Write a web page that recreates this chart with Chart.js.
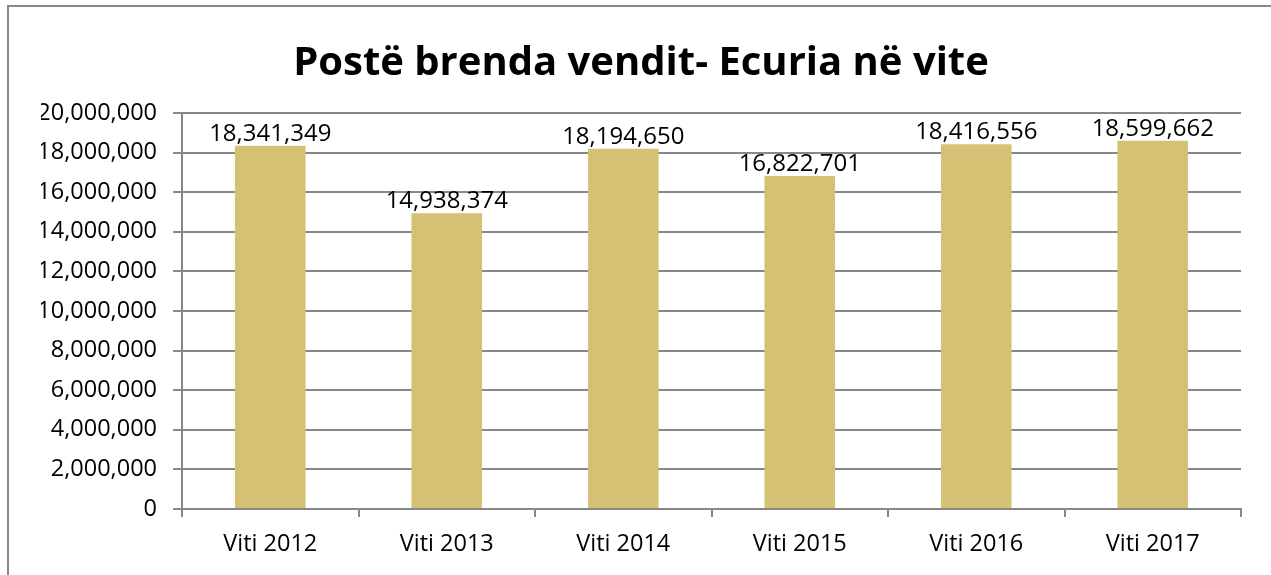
<!DOCTYPE html>
<html>
<head>
<meta charset="utf-8">
<script src="https://cdn.jsdelivr.net/npm/chart.js@4"></script>
<style>
  html, body { margin: 0; padding: 0; background: #fff; overflow: hidden; }
  #frame {
    position: absolute; left: 7px; top: 5px; width: 1300px; height: 600px;
    border-left: 2px solid #888; border-top: 2px solid #888;
  }
  #wrap { position: absolute; left: 0; top: 0; width: 1271px; height: 575px; }
</style>
</head>
<body>
<div id="frame"></div>
<div id="wrap"><canvas id="chart" width="1271" height="575"></canvas></div>
<script>
const titulli = 'Postë brenda vendit- Ecuria në vite';
const vitet = ['Viti 2012', 'Viti 2013', 'Viti 2014', 'Viti 2015', 'Viti 2016', 'Viti 2017'];
const dergesat = [18341349, 14938374, 18194650, 16822701, 18416556, 18599662];
const yMax = 20000000;
const yHapi = 2000000;

const FONT = '"Open Sans", sans-serif';
const fmt = v => v.toLocaleString('en-US');

// labels above bars
const etiketat = {
  id: 'etiketat',
  afterDatasetsDraw(chart) {
    const ctx = chart.ctx;
    const meta = chart.getDatasetMeta(0);
    ctx.save();
    ctx.font = '24px ' + FONT;
    ctx.fillStyle = '#000';
    ctx.textAlign = 'center';
    ctx.textBaseline = 'alphabetic';
    meta.data.forEach((bar, i) => {
      ctx.fillText(fmt(dergesat[i]), bar.x, bar.y - 5);
    });
    ctx.restore();
  }
};

new Chart(document.getElementById('chart').getContext('2d'), {
  type: 'bar',
  data: {
    labels: vitet,
    datasets: [{
      data: dergesat,
      backgroundColor: '#D4C173',
      barPercentage: 0.4,
      categoryPercentage: 1
    }]
  },
  options: {
    responsive: false,
    animation: false,
    layout: { padding: { left: 41, right: 30, top: 0, bottom: 0 } },
    plugins: {
      legend: { display: false },
      tooltip: { enabled: false },
      title: {
        display: true,
        text: titulli,
        color: '#000',
        font: { family: FONT, size: 40, weight: 'bold' },
        padding: { top: 40, bottom: 25 }
      }
    },
    scales: {
      x: {
        offset: true,
        afterFit: s => { s.height = 66; },
        grid: { drawOnChartArea: false, drawTicks: true, tickLength: 8, color: '#888', offset: true, lineWidth: 2 },
        border: { color: '#888', width: 2 },
        ticks: { color: '#000', font: { family: FONT, size: 23.5 }, padding: 13 }
      },
      y: {
        min: 0,
        max: yMax,
        afterFit: s => { s.width = 141; },
        grid: { color: '#888', lineWidth: 2, tickLength: 9 },
        border: { color: '#888', width: 2 },
        ticks: {
          stepSize: yHapi,
          color: '#000',
          font: { family: FONT, size: 23.5 },
          padding: 16,
          callback: v => fmt(v)
        }
      }
    }
  },
  plugins: [etiketat]
});
</script>
</body>
</html>
